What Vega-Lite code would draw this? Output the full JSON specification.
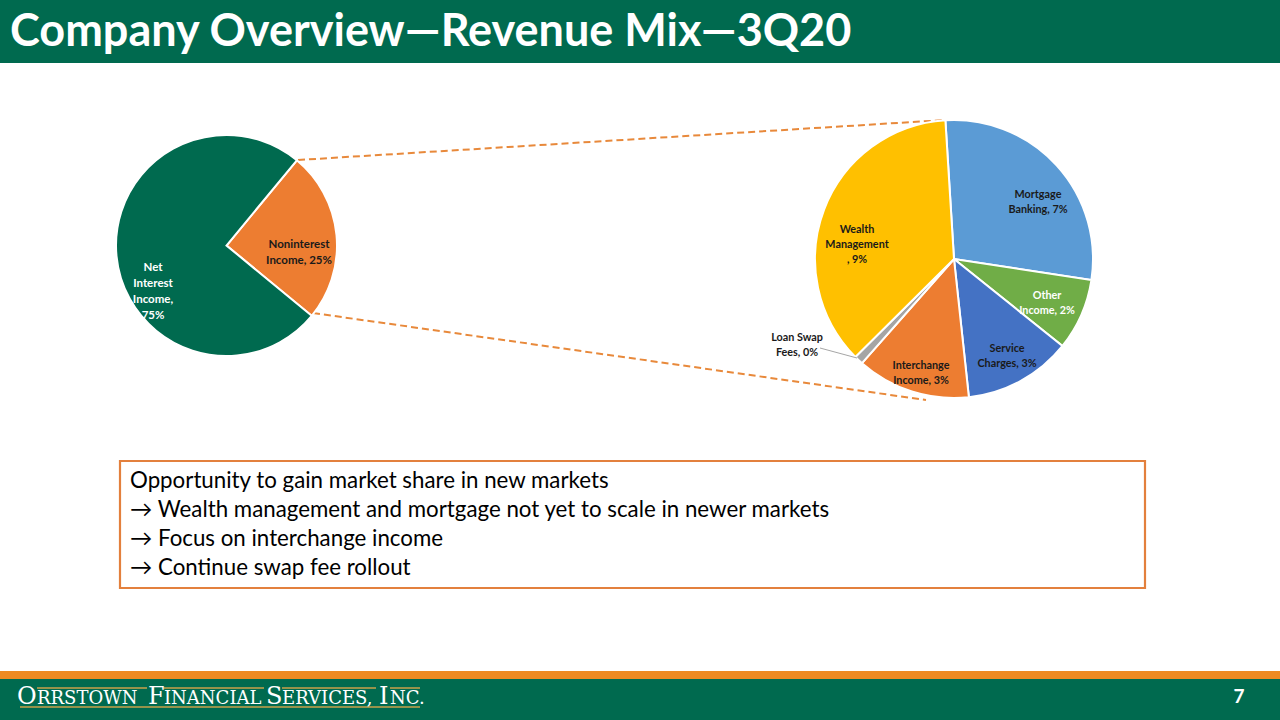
{
  "$schema": "https://vega.github.io/schema/vega-lite/v6.json",
  "width": 1280,
  "height": 720,
  "autosize": {"type": "fit", "contains": "padding"},
  "padding": 0,
  "background": "white",
  "config": {"view": {"stroke": null}},
  "datasets": {
    "bands": [
      {"part": "header", "x": 0, "x2": 1280, "y": 0, "y2": 63},
      {"part": "footer", "x": 0, "x2": 1280, "y": 679, "y2": 720}
    ],
    "stripe": [{"x": 0, "x2": 1280, "y": 671, "y2": 679}],
    "box": [{"x": 120, "x2": 1145, "y": 461, "y2": 588}],
    "connectors": [
      {"x": 298, "y": 160, "x2": 945, "y2": 120},
      {"x": 313, "y": 313, "x2": 926, "y2": 400}
    ],
    "leader": [{"x": 820, "y": 348, "x2": 857, "y2": 358}],
    "pie1": [
      {"cat": "Noninterest Income", "v": 25, "o": 1},
      {"cat": "Net Interest Income", "v": 75, "o": 2}
    ],
    "pie2": [
      {"cat": "Mortgage Banking", "v": 7.09, "o": 1},
      {"cat": "Other Income", "v": 2.08, "o": 2},
      {"cat": "Service Charges", "v": 3.13, "o": 3},
      {"cat": "Interchange Income", "v": 3.3, "o": 4},
      {"cat": "Loan Swap Fees", "v": 0.26, "o": 5},
      {"cat": "Wealth Management", "v": 9.1, "o": 6}
    ],
    "title": [{"text": "Company Overview—Revenue Mix—3Q20", "x": 10, "y": 32}],
    "labels": [
      {"g": "leftWhite", "text": "Net\nInterest\nIncome,\n75%", "x": 153, "y": 268},
      {"g": "leftDark", "text": "Noninterest\nIncome, 25%", "x": 299, "y": 245},
      {"g": "rightDark", "text": "Mortgage\nBanking, 7%", "x": 1038, "y": 194.5},
      {"g": "rightDark", "text": "Wealth\nManagement\n, 9%", "x": 857, "y": 230},
      {"g": "rightWhite", "text": "Other\nIncome, 2%", "x": 1047, "y": 295.5},
      {"g": "rightDark", "text": "Service\nCharges, 3%", "x": 1007, "y": 348.5},
      {"g": "rightDark", "text": "Interchange\nIncome, 3%", "x": 921, "y": 365.5},
      {"g": "rightDark", "text": "Loan Swap\nFees, 0%", "x": 797, "y": 338}
    ],
    "boxText": [
      {"text": "Opportunity to gain market share in new markets", "x": 130, "y": 481},
      {"text": "→  Wealth management and mortgage not yet to scale in newer markets", "x": 130, "y": 510},
      {"text": "→  Focus on interchange income", "x": 130, "y": 539},
      {"text": "→  Continue swap fee rollout", "x": 130, "y": 568}
    ],
    "logoLines": [
      {"x": 37, "x2": 147, "y": 688, "y2": 688},
      {"x": 164, "x2": 264, "y": 688, "y2": 688},
      {"x": 282, "x2": 376, "y": 688, "y2": 688},
      {"x": 390, "x2": 420, "y": 688, "y2": 688},
      {"x": 20, "x2": 420, "y": 707, "y2": 707}
    ],
    "logoBig": [
      {"text": "O", "x": 17, "y": 704},
      {"text": "F", "x": 148, "y": 704},
      {"text": "S", "x": 266, "y": 704},
      {"text": "I", "x": 379, "y": 704}
    ],
    "logoSmall": [
      {"text": "RRSTOWN", "x": 37, "y": 704},
      {"text": "INANCIAL", "x": 164, "y": 704},
      {"text": "ERVICES,", "x": 282, "y": 704},
      {"text": "NC.", "x": 390, "y": 704}
    ],
    "page": [{"text": "7", "x": 1239, "y": 697}]
  },
  "encoding": {
    "x": {"field": "x", "type": "quantitative", "scale": {"domain": [0, 1280], "nice": false, "zero": false}, "axis": null},
    "y": {"field": "y", "type": "quantitative", "scale": {"domain": [0, 720], "nice": false, "zero": false, "reverse": true}, "axis": null}
  },
  "layer": [
    {
      "data": {"name": "bands"},
      "mark": {"type": "rect", "color": "#006A4F"},
      "encoding": {"x2": {"field": "x2"}, "y2": {"field": "y2"}}
    },
    {
      "data": {"name": "stripe"},
      "mark": {"type": "rect", "color": "#EE8A22"},
      "encoding": {"x2": {"field": "x2"}, "y2": {"field": "y2"}}
    },
    {
      "data": {"name": "box"},
      "mark": {"type": "rect", "fill": "white", "stroke": "#E3803D", "strokeWidth": 2.2},
      "encoding": {"x2": {"field": "x2"}, "y2": {"field": "y2"}}
    },
    {
      "data": {"name": "connectors"},
      "mark": {"type": "rule", "color": "#E8893B", "strokeWidth": 2, "strokeDash": [7, 4]},
      "encoding": {"x2": {"field": "x2"}, "y2": {"field": "y2"}}
    },
    {
      "data": {"name": "pie1"},
      "mark": {"type": "arc", "outerRadius": 110.5, "stroke": "white", "strokeWidth": 2,
        "x": {"expr": "scale('x', 226.5)"}, "y": {"expr": "scale('y', 245.5)"}},
      "encoding": {
        "x": null,
        "y": null,
        "theta": {"field": "v", "type": "quantitative", "stack": true, "scale": {"range": [0.69, 6.9732]}},
        "order": {"field": "o", "type": "quantitative"},
        "color": {"field": "cat", "type": "nominal", "legend": null,
          "scale": {"domain": ["Noninterest Income", "Net Interest Income"], "range": ["#ED7D31", "#006A4F"]}}
      }
    },
    {
      "data": {"name": "pie2"},
      "mark": {"type": "arc", "outerRadius": 139, "stroke": "white", "strokeWidth": 2,
        "x": {"expr": "scale('x', 954)"}, "y": {"expr": "scale('y', 259)"}},
      "encoding": {
        "x": null,
        "y": null,
        "theta": {"field": "v", "type": "quantitative", "stack": true, "scale": {"range": [-0.062, 6.2212]}},
        "order": {"field": "o", "type": "quantitative"},
        "color": {"field": "cat", "type": "nominal", "legend": null,
          "scale": {
            "domain": ["Mortgage Banking", "Other Income", "Service Charges", "Interchange Income", "Loan Swap Fees", "Wealth Management"],
            "range": ["#5B9BD5", "#70AD47", "#4472C4", "#ED7D31", "#A5A5A5", "#FFC000"]}}
      }
    },
    {
      "data": {"name": "leader"},
      "mark": {"type": "rule", "color": "#A6A6A6", "strokeWidth": 1},
      "encoding": {"x2": {"field": "x2"}, "y2": {"field": "y2"}}
    },
    {
      "data": {"name": "title"},
      "mark": {"type": "text", "align": "left", "baseline": "middle", "font": "Lato", "fontWeight": "bold", "fontSize": 45, "color": "white"},
      "encoding": {"text": {"field": "text"}}
    },
    {
      "data": {"name": "labels"},
      "transform": [{"filter": "datum.g === 'leftWhite'"}],
      "mark": {"type": "text", "align": "center", "baseline": "middle", "font": "Lato", "fontWeight": "bold", "fontSize": 11.5, "lineHeight": 16, "lineBreak": "\n", "color": "white"},
      "encoding": {"text": {"field": "text"}}
    },
    {
      "data": {"name": "labels"},
      "transform": [{"filter": "datum.g === 'leftDark'"}],
      "mark": {"type": "text", "align": "center", "baseline": "middle", "font": "Lato", "fontWeight": "bold", "fontSize": 11.5, "lineHeight": 16, "lineBreak": "\n", "color": "#1A1A1A"},
      "encoding": {"text": {"field": "text"}}
    },
    {
      "data": {"name": "labels"},
      "transform": [{"filter": "datum.g === 'rightDark'"}],
      "mark": {"type": "text", "align": "center", "baseline": "middle", "font": "Lato", "fontWeight": "bold", "fontSize": 10.8, "lineHeight": 15, "lineBreak": "\n", "color": "#1A1A1A"},
      "encoding": {"text": {"field": "text"}}
    },
    {
      "data": {"name": "labels"},
      "transform": [{"filter": "datum.g === 'rightWhite'"}],
      "mark": {"type": "text", "align": "center", "baseline": "middle", "font": "Lato", "fontWeight": "bold", "fontSize": 10.8, "lineHeight": 15, "lineBreak": "\n", "color": "white"},
      "encoding": {"text": {"field": "text"}}
    },
    {
      "data": {"name": "boxText"},
      "mark": {"type": "text", "align": "left", "baseline": "middle", "font": "Lato", "fontSize": 22.3, "color": "#000000"},
      "encoding": {"text": {"field": "text"}}
    },
    {
      "data": {"name": "logoLines"},
      "mark": {"type": "rule", "color": "#C9A24A", "strokeWidth": 1.5},
      "encoding": {"x2": {"field": "x2"}, "y2": {"field": "y2"}}
    },
    {
      "data": {"name": "logoBig"},
      "mark": {"type": "text", "align": "left", "baseline": "alphabetic", "font": "DejaVu Serif", "fontSize": 24, "color": "white"},
      "encoding": {"text": {"field": "text"}}
    },
    {
      "data": {"name": "logoSmall"},
      "mark": {"type": "text", "align": "left", "baseline": "alphabetic", "font": "DejaVu Serif", "fontSize": 18, "color": "white"},
      "encoding": {"text": {"field": "text"}}
    },
    {
      "data": {"name": "page"},
      "mark": {"type": "text", "align": "center", "baseline": "middle", "font": "Lato", "fontWeight": "bold", "fontSize": 19, "color": "white"},
      "encoding": {"text": {"field": "text"}}
    }
  ],
  "resolve": {"scale": {"theta": "independent", "color": "independent"}}
}
